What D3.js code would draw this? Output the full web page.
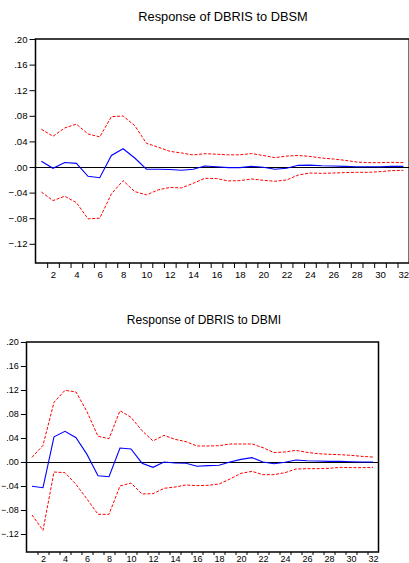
<!DOCTYPE html>
<html>
<head>
<meta charset="utf-8">
<script src="https://cdn.jsdelivr.net/npm/d3@7"></script>
<style>
  html, body { margin: 0; padding: 0; background: #fff; }
  svg { display: block; }
  text { font-family: "Liberation Sans", Arial, sans-serif; fill: #000; }
</style>
</head>
<body>
<svg id="chart" width="409" height="563"></svg>
<script>
// ---- data ----
const periods = d3.range(1, 33);
const yTicks = [0.20, 0.16, 0.12, 0.08, 0.04, 0.00, -0.04, -0.08, -0.12];
const xTickLabels = [2, 4, 6, 8, 10, 12, 14, 16, 18, 20, 22, 24, 26, 28, 30, 32];

const titleDBSM = "Response of DBRIS to DBSM";
const respDBSM = [0.009, -0.002, 0.007, 0.0057, -0.0146, -0.0167, 0.018, 0.0286, 0.014, -0.0033,
  -0.0036, -0.004, -0.005, -0.0036, 0.0016, 0.0005, -0.001, -0.001, 0.001, -0.0005,
  -0.0036, -0.002, 0.0026, 0.003, 0.002, 0.0015, 0.001, 0.0005, 0.0005, 0.0005, 0.001, 0.001];
const upperDBSM = [0.059, 0.048, 0.061, 0.067, 0.0516, 0.047, 0.0786, 0.0797, 0.0646, 0.037,
  0.031, 0.0245, 0.0219, 0.0188, 0.0208, 0.02, 0.019, 0.019, 0.021, 0.018,
  0.0146, 0.017, 0.018, 0.0166, 0.014, 0.0125, 0.0104, 0.0078, 0.0068, 0.0068, 0.0073, 0.0068];
const lowerDBSM = [-0.039, -0.0525, -0.0457, -0.0556, -0.081, -0.080, -0.042, -0.0213, -0.0384, -0.0436,
  -0.0358, -0.032, -0.0327, -0.0255, -0.0177, -0.018, -0.0218, -0.0213, -0.0187, -0.0208,
  -0.0223, -0.0203, -0.0125, -0.0094, -0.0099, -0.0094, -0.0088, -0.0083, -0.0083, -0.0073, -0.0057, -0.0052];

const titleDBMI = "Response of DBRIS to DBMI";
const respDBMI = [-0.0405, -0.0428, 0.042, 0.0512, 0.0405, 0.0127, -0.0228, -0.0245, 0.0233, 0.0217,
  -0.002, -0.0089, 0.0, -0.0017, -0.0022, -0.0072, -0.006, -0.0055, 0.0, 0.0044,
  0.0072, 0.0, -0.0028, -0.0005, 0.0033, 0.0022, 0.0017, 0.001, 0.001, 0.0005, 0.0, 0.0];
const upperDBMI = [0.0078, 0.0278, 0.0995, 0.1195, 0.1167, 0.0839, 0.0428, 0.0389, 0.0855, 0.0745,
  0.0522, 0.0352, 0.0444, 0.0378, 0.0339, 0.0267, 0.0267, 0.0272, 0.03, 0.03,
  0.03, 0.0239, 0.0156, 0.0167, 0.0194, 0.0161, 0.0139, 0.0128, 0.0122, 0.0111, 0.0094, 0.0083];
const lowerDBMI = [-0.0883, -0.1139, -0.0167, -0.0178, -0.0372, -0.0617, -0.0872, -0.0872, -0.04, -0.035,
  -0.0533, -0.0528, -0.0439, -0.0417, -0.0383, -0.0394, -0.0389, -0.0367, -0.0283, -0.0189,
  -0.0156, -0.0211, -0.0211, -0.0178, -0.0117, -0.0111, -0.0111, -0.0106, -0.0089, -0.0094, -0.0094, -0.0089];

// ---- drawing ----
const svg = d3.select("#chart");
const fmt = v => {
  if (Math.abs(v) < 1e-9) return ".00";
  const s = d3.format(".2f")(v);
  return s.replace("0.", ".");
};

function drawPanel(opt) {
  const k = opt.scale;
  const g = svg.append("g");
  const x = d3.scaleLinear().domain([0.5, 32.5]).range([opt.left, opt.right]);
  const y = d3.scaleLinear().domain([-0.15, 0.20]).range([opt.bottom, opt.top]);

  // title
  g.append("text")
    .attr("x", opt.titleX).attr("y", opt.titleY)
    .attr("text-anchor", "middle")
    .style("font-size", (12.8 * k) + "px")
    .text(opt.title);

  // zero line (snapped to pixel centre for a crisp black line)
  const y0 = Math.round(y(0)) + 0.5;
  g.append("line")
    .attr("x1", opt.left).attr("x2", opt.right)
    .attr("y1", y0).attr("y2", y0)
    .attr("stroke", "#000").attr("stroke-width", 1);

  const line = d3.line().x((d, i) => x(periods[i])).y(d => y(d));

  // confidence bands
  [opt.upper, opt.lower].forEach(arr => {
    g.append("path")
      .datum(arr)
      .attr("d", line)
      .attr("fill", "none")
      .attr("stroke", "#ff0000")
      .attr("stroke-width", 1)
      .attr("stroke-dasharray", "3,1.6");
  });

  // response
  g.append("path")
    .datum(opt.resp)
    .attr("d", line)
    .attr("fill", "none")
    .attr("stroke", "#0000ff")
    .attr("stroke-width", 1.1);

  // frame
  g.append("rect")
    .attr("x", opt.left).attr("y", opt.top)
    .attr("width", opt.right - opt.left).attr("height", opt.bottom - opt.top)
    .attr("fill", "none").attr("stroke", "#000").attr("stroke-width", 1.5);

  // y axis
  const yAxis = d3.axisLeft(y).tickValues(yTicks).tickFormat(fmt)
    .tickSize(6 * k).tickPadding(2);
  const ya = g.append("g").attr("transform", `translate(${opt.left},0)`).call(yAxis);
  ya.select(".domain").remove();
  ya.selectAll("text").style("font-size", (9.6 * k) + "px")
    .style("font-family", '"Liberation Sans", Arial, sans-serif').attr("fill", "#000");
  ya.selectAll("line").attr("stroke", "#000");

  // x axis ticks at band boundaries
  const boundaries = d3.range(1.5, 32.5, 1);
  const xt = d3.axisBottom(x).tickValues(boundaries).tickFormat("").tickSize(opt.xTick);
  const xa = g.append("g").attr("transform", `translate(0,${opt.bottom})`).call(xt);
  xa.select(".domain").remove();
  xa.selectAll("line").attr("stroke", "#000");

  // x labels
  const xl = d3.axisBottom(x).tickValues(xTickLabels).tickFormat(d3.format("d"))
    .tickSize(0).tickPadding(opt.xPad);
  const xla = g.append("g").attr("transform", `translate(0,${opt.bottom})`).call(xl);
  xla.select(".domain").remove();
  xla.selectAll("text").style("font-size", (9.6 * k) + "px")
    .style("font-family", '"Liberation Sans", Arial, sans-serif').attr("fill", "#000");
}

drawPanel({
  title: titleDBSM, resp: respDBSM, upper: upperDBSM, lower: lowerDBSM,
  left: 35.5, right: 409.2, top: 39, bottom: 263, scale: 1, xPad: 8, xTick: 5,
  titleX: 223, titleY: 20.5
});

drawPanel({
  title: titleDBMI, resp: respDBMI, upper: upperDBMI, lower: lowerDBMI,
  left: 26.5, right: 378.5, top: 342, bottom: 552, scale: 0.94, xPad: 4, xTick: 3,
  titleX: 204, titleY: 324
});
</script>
</body>
</html>
